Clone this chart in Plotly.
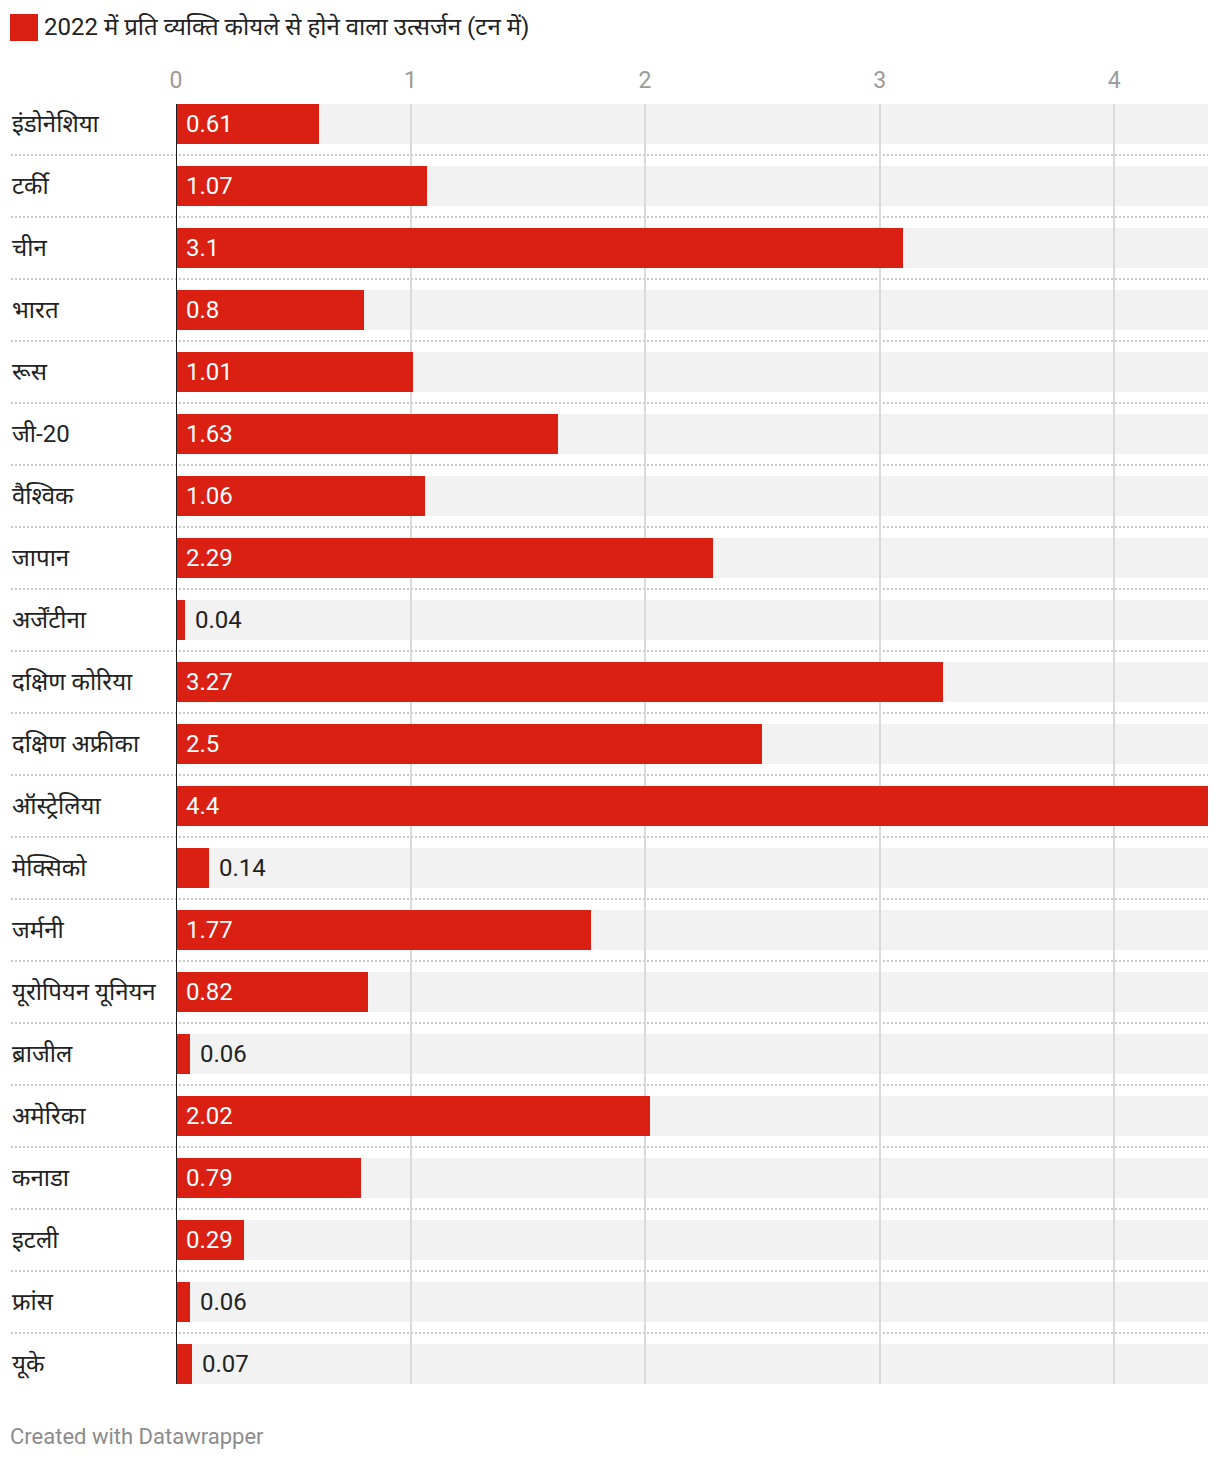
import plotly.graph_objects as go

countries = ["इंडोनेशिया", "टर्की", "चीन", "भारत", "रूस", "जी-20", "वैश्विक", "जापान",
             "अर्जेंटीना", "दक्षिण कोरिया", "दक्षिण अफ्रीका", "ऑस्ट्रेलिया", "मेक्सिको", "जर्मनी",
             "यूरोपियन यूनियन", "ब्राजील", "अमेरिका", "कनाडा", "इटली", "फ्रांस", "यूके"]
values = [0.61, 1.07, 3.1, 0.8, 1.01, 1.63, 1.06, 2.29, 0.04, 3.27, 2.5, 4.4, 0.14, 1.77,
          0.82, 0.06, 2.02, 0.79, 0.29, 0.06, 0.07]
value_labels = ["0.61", "1.07", "3.1", "0.8", "1.01", "1.63", "1.06", "2.29", "0.04", "3.27", "2.5",
                "4.4", "0.14", "1.77", "0.82", "0.06", "2.02", "0.79", "0.29", "0.06", "0.07"]
x_ticks = [0, 1, 2, 3, 4]
x_max = 4.4
series_name = "2022 में प्रति व्यक्ति कोयले से होने वाला उत्सर्जन (टन में)"

W, H = 1220, 1462
L, R, T, B = 176, 12, 104, 78
PW, PH = W - L - R, H - T - B
HALF = 20 / 62

RED = "#DA2012"
FONT = "Roboto, 'Noto Sans', sans-serif"

def px_x(px):
    return (px - L) / PW

def px_y(py):
    return (H - B - py) / PH

n = len(countries)
idx = list(range(n))

fig = go.Figure()
fig.add_trace(go.Bar(
    y=idx, x=values, orientation="h", width=2 * HALF,
    marker=dict(color=RED, line=dict(width=0)),
    hoverinfo="skip", showlegend=False,
))

shapes = []
annotations = []
for i in idx:
    shapes.append(dict(type="rect", xref="paper", yref="y", x0=0, x1=1,
                       y0=i - HALF, y1=i + HALF, fillcolor="#f2f2f2",
                       line=dict(width=0), layer="below"))
    if i < n - 1:
        shapes.append(dict(type="line", xref="paper", yref="y", x0=px_x(11), x1=1,
                           y0=i + 0.5, y1=i + 0.5,
                           line=dict(color="#c8c8c8", width=2, dash="2px,2px"),
                           layer="below"))
    annotations.append(dict(xref="paper", yref="y", x=px_x(10), y=i, text=countries[i],
                            showarrow=False, xanchor="left", yanchor="middle",
                            font=dict(family=FONT, size=24, color="#222")))
    inside = values[i] >= 0.2
    annotations.append(dict(xref="x", yref="y", x=0 if inside else values[i], y=i,
                            text=value_labels[i], showarrow=False, xanchor="left",
                            yanchor="middle", xshift=8,
                            font=dict(family=FONT, size=24,
                                      color="#ffffff" if inside else "#222")))

# zero line
shapes.append(dict(type="line", xref="x", yref="paper", x0=0, x1=0, y0=0, y1=1,
                   line=dict(color="#1d1d1d", width=2), layer="above"))
# legend swatch
shapes.append(dict(type="rect", xref="paper", yref="paper", x0=px_x(10), x1=px_x(38),
                   y0=px_y(41), y1=px_y(14), fillcolor=RED, line=dict(width=0)))
annotations.append(dict(xref="paper", yref="paper", x=px_x(42), y=px_y(27),
                        text=series_name, showarrow=False, xanchor="left", yanchor="middle",
                        font=dict(family=FONT, size=24, color="#222")))
annotations.append(dict(xref="paper", yref="paper", x=px_x(8), y=px_y(1436),
                        text="Created with Datawrapper", showarrow=False, xanchor="left",
                        yanchor="middle", font=dict(family=FONT, size=22, color="#8c8c8c")))

fig.update_layout(
    width=W, height=H,
    margin=dict(l=L, r=R, t=T, b=B, pad=0),
    paper_bgcolor="white", plot_bgcolor="white",
    bargap=0,
    shapes=shapes, annotations=annotations,
    showlegend=False,
    xaxis=dict(range=[0, x_max], side="top", tickvals=x_ticks,
               ticktext=[str(t) for t in x_ticks],
               tickfont=dict(family=FONT, size=23, color="#9a9a9a"),
               showgrid=True, gridcolor="#dadada", gridwidth=2,
               zeroline=False, showline=False, ticks="", ticklabelstandoff=10,
               fixedrange=True),
    yaxis=dict(range=[n - 1 + HALF, -HALF], showticklabels=False, showgrid=False,
               zeroline=False, showline=False, ticks="", fixedrange=True),
)

fig.write_html("out.html")
